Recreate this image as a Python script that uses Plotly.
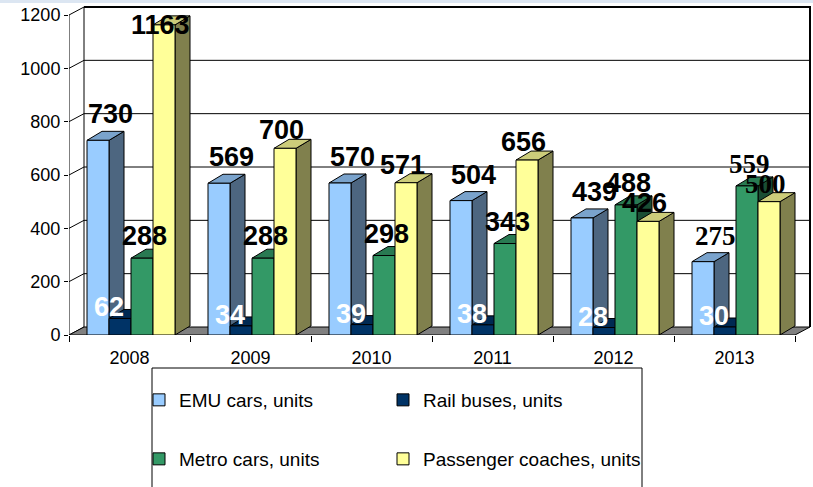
import plotly.graph_objects as go

# ---------------- data ----------------
years = ["2008", "2009", "2010", "2011", "2012", "2013"]
emu_cars = [730, 569, 570, 504, 439, 275]
rail_buses = [62, 34, 39, 38, 28, 30]
metro_cars = [288, 288, 298, 343, 488, 559]
passenger_coaches = [1163, 700, 571, 656, 426, 500]
series_names = ["EMU cars, units", "Rail buses, units",
                "Metro cars, units", "Passenger coaches, units"]
y_ticks = [0, 200, 400, 600, 800, 1000, 1200]

series = [emu_cars, rail_buses, metro_cars, passenger_coaches]

# ---------------- styles ----------------
front_colors = ["#99CCFF", "#003366", "#339966", "#FFFF99"]
side_colors = ["#4D6680", "#001A33", "#1A4D33", "#80804D"]
top_colors = ["#7AA3CC", "#002952", "#297A52", "#CCCC7A"]
label_colors = ["black", "white", "black", "black"]
label_dx_px = [12, -11, 2, -4]
label_dy_px = [26, 11, 22, 18]
legend_ids = ["legend", "legend2", "legend3", "legend4"]
legend_px = [(139, 400), (383, 400), (139, 459), (383, 459)]

SANS = "Liberation Sans, Arial, sans-serif"
SERIF = "Liberation Serif, Times New Roman, serif"

# geometry (pixel scale of the axes)
W, H = 813, 487
ML, MR, MT, MB = 69, 0, 5, 152
PX_X = 121.0                      # px per category
PX_Y = 320.0 / 1200.0             # px per unit
BW = 22 / PX_X                    # bar width
GROUP_OFF = 18 / PX_X - 0.5       # first bar left edge relative to category
DX = 15 / PX_X                    # depth x offset
DYB = 9 / PX_Y                    # bar depth y offset
DYW = 8 / PX_Y                    # wall / floor depth y offset
X_LO = -0.5
X_HI = len(years) - 0.5
X_MAX = X_LO + (W - ML - MR) / PX_X
Y_MAX = (H - MT - MB) / PX_Y
TOP = y_ticks[-1]

fig = go.Figure()


def add_poly(xs, ys, fill, lw=1):
    fig.add_trace(go.Scatter(x=xs, y=ys, mode="lines", fill="toself",
                             fillcolor=fill,
                             line=dict(color="black", width=lw),
                             hoverinfo="skip", showlegend=False))


def add_line(xs, ys, lw=1):
    fig.add_trace(go.Scatter(x=xs, y=ys, mode="lines",
                             line=dict(color="black", width=lw),
                             hoverinfo="skip", showlegend=False))


# ---- walls ----
gx, gy = [], []
for v in y_ticks[1:-1]:
    gx += [X_LO + DX, X_HI + DX, None]
    gy += [v + DYW, v + DYW, None]
for v in y_ticks:
    gx += [X_LO, X_LO + DX, None]
    gy += [v, v + DYW, None]
gx += [X_LO + DX, X_LO + DX, None, X_LO, X_LO]
gy += [DYW, TOP + DYW, None, 0, TOP]
add_line(gx, gy, 1)
add_line([X_LO + DX, X_HI + DX, X_HI + DX], [TOP + DYW, TOP + DYW, DYW], 2)

# ---- floor ----
add_poly([X_LO, X_HI, X_HI + DX, X_LO + DX, X_LO], [0, 0, DYW, DYW, 0], "#808080")

# ---- 3D bars ----
annotations = []
for s, vals in enumerate(series):
    sx, sy, tx, ty, fx, fy = [], [], [], [], [], []
    for i, v in enumerate(vals):
        x0 = i + GROUP_OFF + s * BW
        x1 = x0 + BW
        sx += [x1, x1 + DX, x1 + DX, x1, x1, None]
        sy += [0, DYB, v + DYB, v, 0, None]
        tx += [x0, x1, x1 + DX, x0 + DX, x0, None]
        ty += [v, v, v + DYB, v + DYB, v, None]
        fx += [x0, x1, x1, x0, x0, None]
        fy += [0, 0, v, v, 0, None]
        # label
        ly = min(v + label_dy_px[s] / PX_Y, TOP - 10 / PX_Y)
        fam = SERIF if (years[i] == "2013" and s != 1) else SANS
        annotations.append(dict(
            x=(x0 + x1) / 2, y=ly, xref="x", yref="y",
            text="<b>%d</b>" % v, showarrow=False,
            xanchor="center", yanchor="middle", xshift=label_dx_px[s],
            font=dict(family=fam, size=27, color=label_colors[s])))
    add_poly(sx, sy, side_colors[s])
    add_poly(tx, ty, top_colors[s])
    add_poly(fx, fy, front_colors[s])

# ---- legend entries ----
for s, name in enumerate(series_names):
    fig.add_trace(go.Bar(x=[None], y=[None], name=name,
                         marker=dict(color=front_colors[s],
                                     line=dict(color="black", width=1)),
                         legend=legend_ids[s], hoverinfo="skip"))

legend_layout = {}
for lid, (lx, ly) in zip(legend_ids, legend_px):
    legend_layout[lid] = dict(
        orientation="h", xref="container", yref="container",
        x=lx / W, y=1 - ly / H, xanchor="left", yanchor="middle",
        font=dict(family=SANS, size=19, color="black"),
        bgcolor="rgba(0,0,0,0)", borderwidth=0)

fig.update_layout(
    width=W, height=H,
    margin=dict(l=ML, r=MR, t=MT, b=MB, autoexpand=False),
    paper_bgcolor="white", plot_bgcolor="white",
    showlegend=True,
    **legend_layout,
    xaxis=dict(range=[X_LO, X_MAX], tickvals=list(range(len(years))),
               ticktext=years, ticks="outside", ticklen=6,
               tickcolor="rgba(0,0,0,0)", showgrid=False, zeroline=False,
               showline=False,
               minor=dict(tickvals=[k - 0.5 for k in range(len(years) + 1)],
                          ticks="outside", ticklen=6, tickcolor="black",
                          tickwidth=1, showgrid=False),
               tickfont=dict(family=SANS, size=18, color="black"),
               fixedrange=True),
    yaxis=dict(range=[0, Y_MAX], tickvals=y_ticks, ticks="outside", ticklen=4,
               tickcolor="black", showgrid=False, zeroline=False,
               showline=False,
               tickfont=dict(family=SANS, size=18, color="black"),
               fixedrange=True),
    annotations=annotations,
    shapes=[
        dict(type="rect", xref="paper", yref="paper",
             x0=-ML / (W - ML - MR), x1=1.0,
             y0=1 + (MT - 3) / (H - MT - MB), y1=1 + MT / (H - MT - MB),
             fillcolor="#DCE6F2", line=dict(width=0), layer="below"),
        dict(type="rect", xref="paper", yref="paper",
             x0=(152 - ML) / (W - ML - MR), x1=(642 - ML) / (W - ML - MR),
             y0=-(368 - (H - MB)) / (H - MT - MB),
             y1=-(495 - (H - MB)) / (H - MT - MB),
             line=dict(color="black", width=1), fillcolor="rgba(0,0,0,0)"),
    ],
)

fig.write_html("out.html",
               config={"displayModeBar": False},
               post_script="document.body.style.margin='0';"
                           "document.body.style.overflow='hidden';")
